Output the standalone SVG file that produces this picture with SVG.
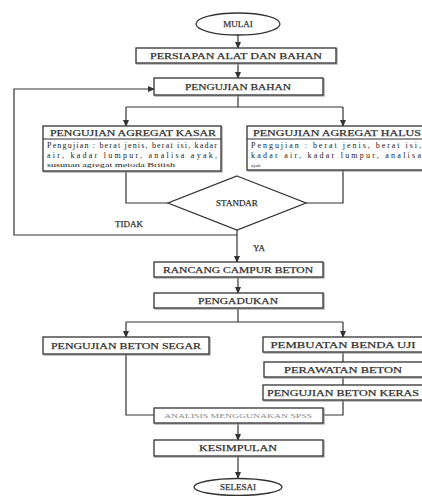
<svg xmlns="http://www.w3.org/2000/svg" width="422" height="496" viewBox="0 0 422 496">
<style>
.bx{fill:#fff;stroke:#333;stroke-width:1.3}
.sh{fill:none;stroke:#999;stroke-width:1.2}
.t{font-family:"Liberation Serif","Times New Roman",serif;font-size:9px;fill:#222;stroke:#444;stroke-width:0.25;text-anchor:middle}
.b{font-family:"Liberation Serif","Times New Roman",serif;font-size:8px;fill:#222}
.ln{fill:none;stroke:#333;stroke-width:1.2}
</style>
<defs>
<marker id="ar" viewBox="0 0 8 8" refX="7" refY="4" markerWidth="7" markerHeight="7" orient="auto" markerUnits="userSpaceOnUse">
<path d="M0,0.5 L8,4 L0,7.5 Z" fill="#333"/>
</marker>
</defs>
<rect width="422" height="496" fill="#fff"/>
<g id="connectors">
<path class="ln" d="M238,35 V48" marker-end="url(#ar)"/>
<path class="ln" d="M238,63 V78" marker-end="url(#ar)"/>
<path class="ln" d="M237,235 H14 V89 H154" marker-end="url(#ar)"/>
<path class="ln" d="M238,95 V107"/>
<path class="ln" d="M126,107 H343"/>
<path class="ln" d="M126,107 V126" marker-end="url(#ar)"/>
<path class="ln" d="M343,107 V126" marker-end="url(#ar)"/>
<path class="ln" d="M126,171 V203 H168"/>
<path class="ln" d="M343,170 V203 H306"/>
<path class="ln" d="M237,230 V262" marker-end="url(#ar)"/>
<path class="ln" d="M238,277 V293" marker-end="url(#ar)"/>
<path class="ln" d="M238,308 V322"/>
<path class="ln" d="M126,322 H343"/>
<path class="ln" d="M126,322 V337" marker-end="url(#ar)"/>
<path class="ln" d="M343,322 V337" marker-end="url(#ar)"/>
<path class="ln" d="M343,352 V362"/>
<path class="ln" d="M343,377 V385"/>
<path class="ln" d="M343,400 V415 H323"/>
<path class="ln" d="M126,354 V415 H154"/>
<path class="ln" d="M238,423 V440" marker-end="url(#ar)"/>
<path class="ln" d="M238,456 V478" marker-end="url(#ar)"/>
<text class="t" x="129" y="227">TIDAK</text>
<text class="t" x="259" y="251">YA</text>
</g>
<g id="mulai">
<ellipse class="bx" cx="238" cy="24" rx="42" ry="11"/>
<text class="t" x="238" y="27">MULAI</text>
</g>
<g id="persiapan">
<rect class="sh" x="137" y="49" width="200" height="15"/>
<rect class="bx" x="136" y="48" width="200" height="15"/>
<text class="t" x="236" y="59" textLength="172" lengthAdjust="spacingAndGlyphs">PERSIAPAN ALAT DAN BAHAN</text>
</g>
<g id="pengujian-bahan">
<rect class="sh" x="155" y="79" width="169" height="17"/>
<rect class="bx" x="154" y="78" width="169" height="17"/>
<text class="t" x="238" y="90" textLength="106" lengthAdjust="spacingAndGlyphs">PENGUJIAN BAHAN</text>
</g>
<g id="agregat-kasar">
<rect class="sh" x="44" y="127" width="178" height="45"/>
<rect class="bx" x="43" y="126" width="178" height="45"/>
<line class="ln" x1="43" y1="139" x2="221" y2="139"/>
<text class="t" x="133" y="136" textLength="166" lengthAdjust="spacingAndGlyphs">PENGUJIAN AGREGAT KASAR</text>
<text class="b" x="47" y="148" textLength="170" lengthAdjust="spacing">Pengujian : berat jenis, berat isi, kadar</text>
<text class="b" x="47" y="158" textLength="170" lengthAdjust="spacing">air, kadar lumpur, analisa ayak,</text>
<text class="b" x="47" y="167" style="font-size:6.5px" textLength="128" lengthAdjust="spacingAndGlyphs">susunan agregat metoda British</text>
</g>
<g id="agregat-halus">
<rect class="sh" x="248" y="127" width="178" height="44"/>
<rect class="bx" x="247" y="126" width="178" height="44"/>
<line class="ln" x1="247" y1="139" x2="425" y2="139"/>
<text class="t" x="337" y="136" textLength="168" lengthAdjust="spacingAndGlyphs">PENGUJIAN AGREGAT HALUS</text>
<text class="b" x="251" y="148" textLength="170" lengthAdjust="spacing">Pengujian : berat jenis, berat isi,</text>
<text class="b" x="251" y="158" textLength="170" lengthAdjust="spacing">kadar air, kadar lumpur, analisa</text>
<text class="b" x="251" y="167" style="font-size:5px">ayak</text>
</g>
<g id="standar">
<polygon class="bx" points="237,176 306,203 237,230 168,203"/>
<text class="t" x="237" y="206">STANDAR</text>
</g>
<g id="rancang">
<rect class="sh" x="155" y="263" width="169" height="15"/>
<rect class="bx" x="154" y="262" width="169" height="15"/>
<text class="t" x="238" y="273" textLength="150" lengthAdjust="spacingAndGlyphs">RANCANG CAMPUR BETON</text>
</g>
<g id="pengadukan">
<rect class="sh" x="155" y="294" width="169" height="15"/>
<rect class="bx" x="154" y="293" width="169" height="15"/>
<text class="t" x="238" y="304" textLength="80" lengthAdjust="spacingAndGlyphs">PENGADUKAN</text>
</g>
<g id="beton-segar">
<rect class="sh" x="44" y="338" width="166" height="17"/>
<rect class="bx" x="43" y="337" width="166" height="17"/>
<text class="t" x="126" y="349" textLength="150" lengthAdjust="spacingAndGlyphs">PENGUJIAN BETON SEGAR</text>
</g>
<g id="pembuatan">
<rect class="sh" x="264" y="338" width="160" height="15"/>
<rect class="bx" x="263" y="337" width="162" height="15"/>
<text class="t" x="343" y="348" textLength="145" lengthAdjust="spacingAndGlyphs">PEMBUATAN BENDA UJI</text>
</g>
<g id="perawatan">
<rect class="sh" x="265" y="363" width="160" height="15"/>
<rect class="bx" x="264" y="362" width="161" height="15"/>
<text class="t" x="343" y="373" textLength="118" lengthAdjust="spacingAndGlyphs">PERAWATAN BETON</text>
</g>
<g id="beton-keras">
<rect class="sh" x="264" y="386" width="160" height="15"/>
<rect class="bx" x="263" y="385" width="162" height="15"/>
<text class="t" x="343" y="396" textLength="152" lengthAdjust="spacingAndGlyphs">PENGUJIAN BETON KERAS</text>
</g>
<g id="analisis">
<rect class="sh" x="155" y="409" width="169" height="15"/>
<rect class="bx" x="154" y="408" width="169" height="15"/>
<text class="t" x="238" y="418" style="font-size:6.5px;fill:#888;stroke:none" textLength="148" lengthAdjust="spacingAndGlyphs">ANALISIS MENGGUNAKAN SPSS</text>
</g>
<g id="kesimpulan">
<rect class="sh" x="155" y="441" width="169" height="16"/>
<rect class="bx" x="154" y="440" width="169" height="16"/>
<text class="t" x="238" y="451" textLength="78" lengthAdjust="spacingAndGlyphs">KESIMPULAN</text>
</g>
<g id="selesai">
<ellipse class="bx" cx="238" cy="487" rx="44" ry="8.5"/>
<text class="t" x="238" y="490">SELESAI</text>
</g>
</svg>
